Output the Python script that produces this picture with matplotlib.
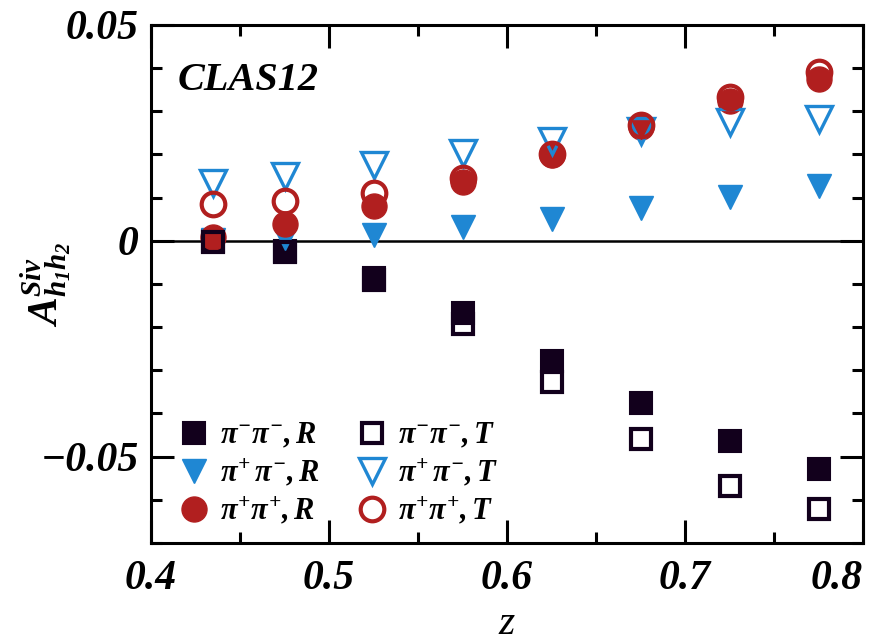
import matplotlib
matplotlib.use('Agg')
import matplotlib.pyplot as plt
from matplotlib.ticker import MultipleLocator

plt.rcParams['font.family'] = 'Liberation Serif'
plt.rcParams['font.weight'] = 'bold'
plt.rcParams['font.style'] = 'italic'
plt.rcParams['mathtext.fontset'] = 'custom'
plt.rcParams['mathtext.it'] = 'Liberation Serif:italic:bold'
plt.rcParams['mathtext.rm'] = 'Liberation Serif:italic:bold'
plt.rcParams['mathtext.bf'] = 'Liberation Serif:bold'

# z bins
z = [0.435, 0.475, 0.525, 0.575, 0.625, 0.675, 0.725, 0.775]

# pi- pi-
mm_R = [-0.0001, -0.0023, -0.0086, -0.0167, -0.0278, -0.0376, -0.0465, -0.0528]
mm_T = [-0.0002, -0.0025, -0.0090, -0.0192, -0.0326, -0.0459, -0.0569, -0.0621]
# pi+ pi-
pm_R = [0.0003, 0.0006, 0.0014, 0.0032, 0.0051, 0.0076, 0.0101, 0.0127]
pm_T = [0.0134, 0.0150, 0.0176, 0.0204, 0.0231, 0.0255, 0.0275, 0.0282]
# pi+ pi+
pp_R = [0.0009, 0.0039, 0.0081, 0.0137, 0.0199, 0.0264, 0.0325, 0.0375]
pp_T = [0.0086, 0.0093, 0.0111, 0.0146, 0.0200, 0.0268, 0.0334, 0.0392]

x_ticks = [0.4, 0.5, 0.6, 0.7, 0.8]
x_tick_labels = ['0.4', '0.5', '0.6', '0.7', '0.8']
y_ticks = [-0.05, 0.0, 0.05]
y_tick_labels = ['\u22120.05', '0', '0.05']

DARK = '#12001c'
BLUE = '#1f87d3'
RED = '#b11f1f'

fig = plt.figure(figsize=(8.7, 6.41), dpi=100)
ax = fig.add_axes([0.1736, 0.153, 0.8184, 0.808])

# filled (R) first, then open (T) on top
ax.plot(z, mm_R, 's', ms=15.5, mew=1.5, color=DARK, mec=DARK,
        label=r'$\pi^{-}\pi^{-}, R$', zorder=3)
ax.plot(z, pm_R, 'v', ms=17, mew=1.0, color=BLUE, mec=BLUE,
        label=r'$\pi^{+}\,\pi^{-}, R$', zorder=3)
ax.plot(z, pp_R, 'o', ms=18, mew=1.0, color=RED, mec=RED,
        label=r'$\pi^{+}\pi^{+}, R$', zorder=3)
ax.plot(z, mm_T, 's', ms=14, mew=3, mfc='none', mec=DARK,
        label=r'$\pi^{-}\pi^{-}, T$', zorder=4)
ax.plot(z, pm_T, 'v', ms=19, mew=2.4, mfc='none', mec=BLUE,
        label=r'$\pi^{+}\,\pi^{-}, T$', zorder=4)
ax.plot(z, pp_T, 'o', ms=17, mew=3, mfc='none', mec=RED,
        label=r'$\pi^{+}\pi^{+}, T$', zorder=4)

ax.axhline(0, color='black', lw=1.8, zorder=2)

ax.set_xlim(0.4, 0.8)
ax.set_ylim(-0.07, 0.05)
ax.set_xticks(x_ticks)
ax.set_xticklabels(x_tick_labels)
ax.set_yticks(y_ticks)
ax.set_yticklabels(y_tick_labels)
ax.xaxis.set_minor_locator(MultipleLocator(0.05))
ax.yaxis.set_minor_locator(MultipleLocator(0.01))
ax.get_xticklabels()[-1].set_ha('right')
ax.tick_params(which='both', direction='in', top=True, right=True,
               width=2.2, labelsize=30)
ax.tick_params(which='major', length=16.5)
ax.tick_params(which='minor', length=8)
ax.tick_params(axis='x', pad=12)
ax.tick_params(axis='y', pad=9)
for s in ax.spines.values():
    s.set_linewidth(2.2)

ax.set_xlabel('z', fontsize=30, labelpad=5)
ax.set_ylabel(r'$\mathbf{A}^{Siv}_{h_1h_2}$', fontsize=30)
ax.yaxis.set_label_coords(-0.108, 0.5)

ax.text(0.038, 0.8745, 'CLAS12', transform=ax.transAxes, fontsize=29,
        ha='left', va='baseline')

ax.legend(ncol=2, loc='lower left', bbox_to_anchor=(0.0, -0.022),
          frameon=False, fontsize=22, handlelength=1.0, handletextpad=0.35,
          labelspacing=0.22, columnspacing=1.2, numpoints=1)

fig.savefig('out.png', dpi=100)
